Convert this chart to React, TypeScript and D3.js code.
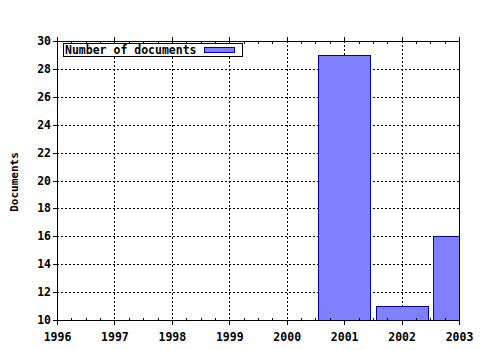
import React from "react";
import * as d3 from "d3";

const years = [1996, 1997, 1998, 1999, 2000, 2001, 2002, 2003];
const documents = [0, 0, 0, 0, 0, 29, 11, 16];
const yTicks = [10, 12, 14, 16, 18, 20, 22, 24, 26, 28, 30];
const seriesName = "Number of documents";
const yTitle = "Documents";

export default function App() {
  const W = 480, H = 350;
  const left = 57, right = 459, top = 41, bottom = 320;
  const x = d3.scaleLinear().domain([1996, 2003]).range([left, right]);
  const y = d3.scaleLinear().domain([10, 30]).range([bottom, top]);
  const step = x(1997) - x(1996);
  const bw = step * 0.9;
  const font = "'DejaVu Sans Mono', monospace";
  const minor: number[] = [];
  for (let v = 1996; v <= 2003.001; v += 0.25) minor.push(v);

  return (
    <svg width={W} height={H} style={{ position: "absolute", left: 0, top: 0, background: "#fff" }}>
      <defs>
        <clipPath id="plot">
          <rect x={left} y={top} width={right - left} height={bottom - top} />
        </clipPath>
      </defs>
      <rect x={0} y={0} width={W} height={H} fill="#fff" />
      {/* grid */}
      {years.slice(1, -1).map((yr) => (
        <line key={"gx" + yr} x1={Math.round(x(yr)) + 0.5} x2={Math.round(x(yr)) + 0.5} y1={top} y2={bottom}
          stroke="#000" strokeWidth={1} strokeDasharray="2,2" />
      ))}
      {yTicks.slice(1, -1).map((t) => (
        <line key={"gy" + t} x1={left} x2={right} y1={Math.round(y(t)) + 0.5} y2={Math.round(y(t)) + 0.5}
          stroke="#000" strokeWidth={1} strokeDasharray="2,2" />
      ))}
      {/* bars */}
      <g clipPath="url(#plot)">
        {years.map((yr, i) => documents[i] > 10 ? (
          <rect key={"b" + yr} x={Math.round(x(yr) - bw / 2) + 0.5} y={Math.round(y(documents[i])) + 0.5}
            width={Math.round(bw)} height={Math.round(bottom - y(documents[i]))}
            fill="#8080ff" stroke="#00009a" strokeWidth={1} />
        ) : null)}
      </g>
      {/* frame */}
      <line x1={left + 0.5} x2={left + 0.5} y1={top} y2={bottom + 1} stroke="#000" />
      <line x1={right + 0.5} x2={right + 0.5} y1={top} y2={bottom + 1} stroke="#000" />
      <line x1={left} x2={right + 1} y1={top + 0.5} y2={top + 0.5} stroke="#000" />
      <line x1={left} x2={right + 1} y1={bottom + 0.5} y2={bottom + 0.5} stroke="#000" />
      {/* minor ticks */}
      {minor.map((v, i) => {
        const px = Math.round(x(v)) + 0.5;
        const major = i % 4 === 0;
        return (
          <g key={"m" + i}>
            {major ? (
              <>
                <line x1={px} x2={px} y1={bottom} y2={bottom + 5} stroke="#000" />
                <line x1={px} x2={px} y1={top - 4} y2={top} stroke="#000" />
              </>
            ) : (
              <>
                <line x1={px} x2={px} y1={bottom - 2} y2={bottom} stroke="#000" />
                <line x1={px} x2={px} y1={top} y2={top + 3} stroke="#000" />
              </>
            )}
          </g>
        );
      })}
      {/* y ticks & labels */}
      {yTicks.map((t) => (
        <g key={"yt" + t}>
          <line x1={left - 4} x2={left} y1={Math.round(y(t)) + 0.5} y2={Math.round(y(t)) + 0.5} stroke="#000" />
          <text x={51} y={y(t)} dy="0.35em" textAnchor="end" fontFamily={font} fontWeight="bold" fontSize={11.5}>{t}</text>
        </g>
      ))}
      {/* x labels */}
      {years.map((yr) => (
        <text key={"xl" + yr} x={x(yr) + 0.5} y={337} dy="0.35em" textAnchor="middle"
          fontFamily={font} fontWeight="bold" fontSize={11.5}>{yr}</text>
      ))}
      {/* y title */}
      <text transform={`translate(14,182) rotate(-90)`} dy="0.35em" textAnchor="middle"
        fontFamily={font} fontWeight="bold" fontSize={11}>{yTitle}</text>
      {/* legend */}
      <rect x={63.5} y={43.5} width={179} height={13} fill="#fff" stroke="#000" />
      <text x={65} y={50} dy="0.35em" fontFamily={font} fontWeight="bold" fontSize={11.5}>{seriesName}</text>
      <rect x={204.5} y={47.5} width={30} height={5} fill="#8080ff" stroke="#00009a" />
    </svg>
  );
}
